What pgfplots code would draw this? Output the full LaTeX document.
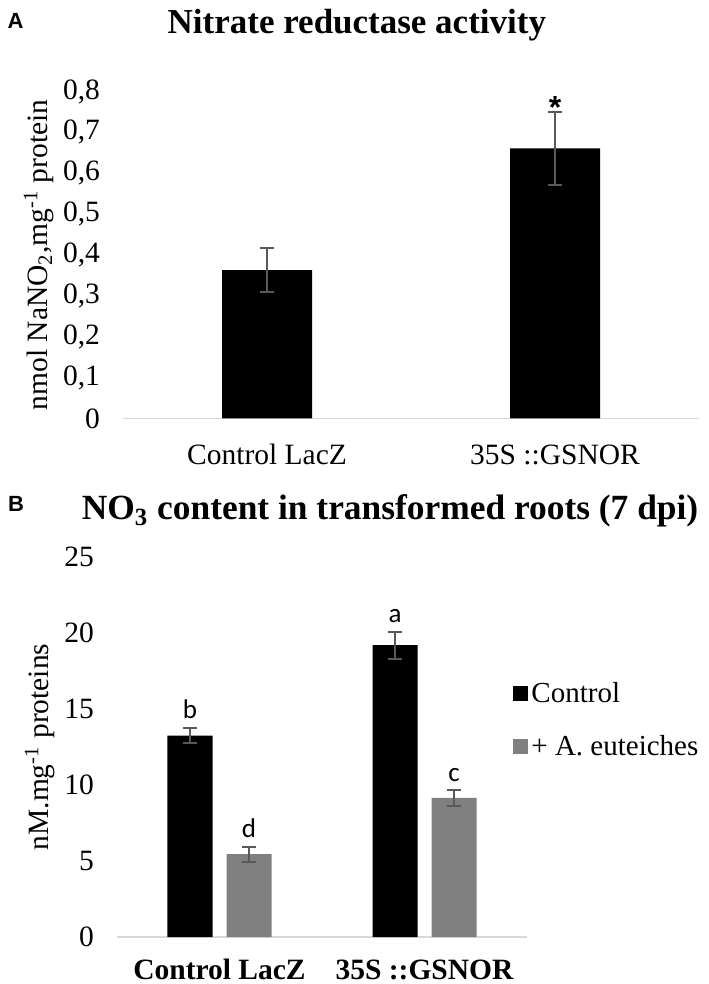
\documentclass[border=0pt]{standalone}
\usepackage{pgfplots}
\pgfplotsset{compat=1.18}
\usepackage{fontspec}
\setmainfont{Liberation Serif}
\newfontfamily\lettersf{Carlito}
\newfontfamily\panelsf{Liberation Sans}
\definecolor{errgray}{HTML}{595959}
\definecolor{axgray}{HTML}{D9D9D9}
\definecolor{bargray}{HTML}{808080}
\pgfplotsset{
  common/.style={
    scale only axis,
    axis x line*=bottom, axis y line*=left,
    x axis line style={axgray, line width=0.8pt},
    y axis line style={draw=none},
    major tick length=0pt, tick style={draw=none},
    xmin=-0.5, xmax=1.5, ymin=0,
    xtick={0,1},
    clip=false,
    yticklabel style={font=\fontsize{14.75}{14.75}\selectfont, anchor=east, xshift=-8pt,
      /pgf/number format/.cd, fixed, precision=1, use comma, assume math mode=true},
    errstyle/.style={only marks, mark=*, mark size=0pt, mark options={draw=none, fill=none},
      error bars/.cd, y dir=both, y explicit,
      error bar style={errgray, line width=1pt},
      error mark options={errgray, line width=1pt, mark size=3.5pt, rotate=90}},
    letters/.style={only marks, mark=*, mark size=0pt, mark options={draw=none, fill=none},
      nodes near coords, point meta=explicit symbolic,
      nodes near coords style={anchor=base, yshift=4.5pt, font=\lettersf\fontsize{13.5}{13.5}\selectfont}},
  }
}
\begin{document}
\begin{tikzpicture}
\useasboundingbox (0,0) rectangle (354pt,492pt);
% Panel A
\begin{axis}[common,
  at={(61.5pt,282.75pt)}, anchor=south west,
  width=288pt, height=163.5pt,
  ymax=0.8,
  ytick={0,0.1,0.2,0.3,0.4,0.5,0.6,0.7,0.8},
  xticklabels={Control LacZ, 35S ::GSNOR},
  xticklabel style={font=\fontsize{14.75}{14.75}\selectfont, anchor=base, yshift=-23.25pt},
  ylabel={nmol NaNO\textsubscript{2},mg\textsuperscript{-1} protein},
  every axis y label/.style={at={(axis description cs:-0.146,0.5)}, anchor=center, rotate=90,
    font=\fontsize{14.75}{14.75}\selectfont},
  title={Nitrate reductase activity},
  title style={at={(axis description cs:0.406,1.142)}, anchor=base, font=\bfseries\fontsize{17.5}{17.5}\selectfont},
]
\addplot[ybar, bar width=45pt, bar shift=0pt, fill=black, draw=none]
  coordinates {(0,0.363) (1,0.661)};
\addplot[errstyle] coordinates {(0,0.363) +- (0,0.053) (1,0.661) +- (0,0.090)};
\addplot[only marks, mark=*, mark size=0pt, mark options={draw=none, fill=none},
  nodes near coords, point meta=explicit symbolic,
  nodes near coords style={anchor=base, yshift=-3.65pt, font=\panelsf\bfseries\fontsize{16}{16}\selectfont}]
  coordinates {(1,0.751) [*]};
\end{axis}
% Panel B
\begin{axis}[common,
  at={(58.5pt,23.5pt)}, anchor=south west,
  width=205pt, height=190pt,
  ymax=25,
  ytick={0,5,10,15,20,25},
  xticklabels={Control LacZ, 35S ::GSNOR},
  xticklabel style={font=\bfseries\fontsize{14.75}{14.75}\selectfont, anchor=base, yshift=-21pt},
  ylabel={nM.mg\textsuperscript{-1} proteins},
  every axis y label/.style={at={(axis description cs:-0.188,0.5)}, anchor=center, rotate=90,
    font=\fontsize{14.75}{14.75}\selectfont},
  title={NO\textsubscript{3} content in transformed roots (7 dpi)},
  title style={at={(axis description cs:0.666,1.066)}, anchor=base, font=\bfseries\fontsize{17.7}{17.7}\selectfont},
  legend style={draw=none, fill=none, at={(axis description cs:0.966,0.68)}, anchor=north west,
    inner sep=0pt, row sep=12pt, nodes={inner sep=1.5pt, font=\fontsize{14.5}{14.5}\selectfont}},
  legend cell align=left,
]
\addplot[ybar, bar width=22.5pt, bar shift=-14.75pt, fill=black, draw=none,
  legend image code/.code={\fill[black] (0pt,-3.75pt) rectangle (7.5pt,3.75pt);}]
  coordinates {(0,13.25) (1,19.2)};
\addlegendentry{Control}
\addplot[ybar, bar width=22.5pt, bar shift=14.75pt, fill=bargray, draw=none,
  legend image code/.code={\fill[bargray] (0pt,-3.75pt) rectangle (7.5pt,3.75pt);}]
  coordinates {(0,5.45) (1,9.15)};
\addlegendentry{+ A. euteiches}
\addplot[forget plot, errstyle] coordinates {(-0.1439,13.25) +- (0,0.5) (0.8561,19.2) +- (0,0.88)};
\addplot[forget plot, errstyle] coordinates {(0.1439,5.45) +- (0,0.5) (1.1439,9.15) +- (0,0.5)};
\addplot[forget plot, letters] coordinates {(-0.1439,13.75) [b] (0.8561,20.08) [a]};
\addplot[forget plot, letters] coordinates {(0.1439,5.95) [d] (1.1439,9.65) [c]};
\end{axis}
\node[font=\panelsf\bfseries\fontsize{11}{11}\selectfont] at (7.75pt,481.75pt) {A};
\node[font=\panelsf\bfseries\fontsize{11}{11}\selectfont] at (8pt,240pt) {B};
\end{tikzpicture}
\end{document}
